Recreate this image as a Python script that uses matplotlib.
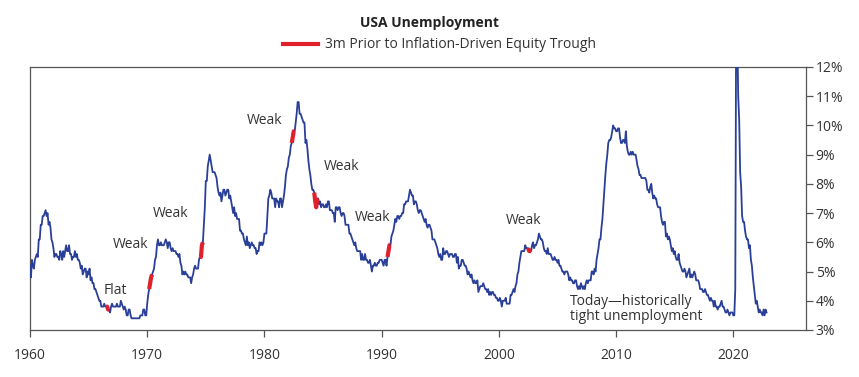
import numpy as np
import matplotlib
matplotlib.use("Agg")
import matplotlib.pyplot as plt

# monthly US unemployment rate (%), Jan 1960 onward
rate_1960s = [
    5.2, 4.8, 5.4, 5.2, 5.1, 5.4, 5.5, 5.6, 5.5, 6.1, 6.1, 6.6,
    6.6, 6.9, 6.9, 7.0, 7.1, 6.9, 7.0, 6.6, 6.7, 6.5, 6.1, 6.0,
    5.8, 5.5, 5.6, 5.6, 5.5, 5.5, 5.4, 5.7, 5.6, 5.4, 5.7, 5.5,
    5.7, 5.9, 5.7, 5.7, 5.9, 5.6, 5.6, 5.4, 5.5, 5.5, 5.7, 5.5,
    5.6, 5.4, 5.4, 5.3, 5.1, 5.2, 4.9, 5.0, 5.1, 5.1, 4.8, 5.0,
    4.9, 5.1, 4.7, 4.8, 4.6, 4.6, 4.4, 4.4, 4.3, 4.2, 4.1, 4.0,
    4.0, 3.8, 3.8, 3.8, 3.9, 3.8, 3.8, 3.8, 3.7, 3.7, 3.6, 3.8,
    3.9, 3.8, 3.8, 3.8, 3.8, 3.9, 3.8, 3.8, 3.8, 4.0, 3.9, 3.8,
    3.7, 3.8, 3.7, 3.5, 3.5, 3.7, 3.7, 3.5, 3.4, 3.4, 3.4, 3.4,
    3.4, 3.4, 3.4, 3.4, 3.4, 3.5, 3.5, 3.5, 3.7, 3.7, 3.5, 3.5,
]
rate_1970s = [
    3.9, 4.2, 4.4, 4.6, 4.8, 4.9, 5.0, 5.1, 5.4, 5.5, 5.9, 6.1,
    5.9, 5.9, 6.0, 5.9, 5.9, 5.9, 6.0, 6.1, 6.0, 5.8, 6.0, 6.0,
    5.8, 5.7, 5.8, 5.7, 5.7, 5.7, 5.6, 5.6, 5.5, 5.6, 5.3, 5.2,
    4.9, 5.0, 4.9, 5.0, 4.9, 4.9, 4.8, 4.8, 4.8, 4.6, 4.8, 4.9,
    5.1, 5.2, 5.1, 5.1, 5.1, 5.4, 5.5, 5.5, 5.9, 6.0, 6.6, 7.2,
    8.1, 8.1, 8.6, 8.8, 9.0, 8.8, 8.6, 8.4, 8.4, 8.4, 8.3, 8.2,
    7.9, 7.7, 7.6, 7.7, 7.4, 7.6, 7.8, 7.8, 7.6, 7.7, 7.8, 7.8,
    7.5, 7.6, 7.4, 7.2, 7.0, 7.2, 6.9, 7.0, 6.8, 6.8, 6.8, 6.4,
    6.4, 6.3, 6.3, 6.1, 6.0, 5.9, 6.2, 5.9, 6.0, 5.8, 5.9, 6.0,
    5.9, 5.9, 5.8, 5.8, 5.6, 5.7, 5.7, 6.0, 5.9, 6.0, 5.9, 6.0,
]
rate_1980s = [
    6.3, 6.3, 6.3, 6.9, 7.5, 7.6, 7.8, 7.7, 7.5, 7.5, 7.5, 7.2,
    7.5, 7.4, 7.4, 7.2, 7.5, 7.5, 7.2, 7.4, 7.6, 7.9, 8.3, 8.5,
    8.6, 8.9, 9.0, 9.3, 9.4, 9.6, 9.8, 9.8, 10.1, 10.4, 10.8, 10.8,
    10.4, 10.4, 10.3, 10.2, 10.1, 10.1, 9.4, 9.5, 9.2, 8.8, 8.5, 8.3,
    8.0, 7.8, 7.8, 7.7, 7.4, 7.2, 7.5, 7.5, 7.3, 7.4, 7.2, 7.3,
    7.3, 7.2, 7.2, 7.3, 7.2, 7.4, 7.4, 7.1, 7.1, 7.1, 7.0, 7.0,
    6.7, 7.2, 7.2, 7.1, 7.2, 7.2, 7.0, 6.9, 7.0, 7.0, 6.9, 6.6,
    6.6, 6.6, 6.6, 6.3, 6.3, 6.2, 6.1, 6.0, 5.9, 6.0, 5.8, 5.7,
    5.7, 5.7, 5.7, 5.4, 5.6, 5.4, 5.4, 5.6, 5.4, 5.4, 5.3, 5.3,
    5.4, 5.2, 5.0, 5.2, 5.2, 5.3, 5.2, 5.2, 5.3, 5.3, 5.4, 5.4,
]
rate_1990s = [
    5.4, 5.3, 5.2, 5.4, 5.4, 5.2, 5.5, 5.7, 5.9, 5.9, 6.2, 6.3,
    6.4, 6.6, 6.8, 6.7, 6.9, 6.9, 6.8, 6.9, 6.9, 7.0, 7.0, 7.3,
    7.3, 7.4, 7.4, 7.4, 7.6, 7.8, 7.7, 7.6, 7.6, 7.3, 7.4, 7.4,
    7.3, 7.1, 7.0, 7.1, 7.1, 7.0, 6.9, 6.8, 6.7, 6.8, 6.6, 6.5,
    6.6, 6.6, 6.5, 6.4, 6.1, 6.1, 6.1, 6.0, 5.9, 5.8, 5.6, 5.5,
    5.6, 5.4, 5.4, 5.8, 5.6, 5.6, 5.7, 5.7, 5.6, 5.5, 5.6, 5.6,
    5.6, 5.5, 5.5, 5.6, 5.6, 5.3, 5.5, 5.1, 5.2, 5.2, 5.4, 5.4,
    5.3, 5.2, 5.2, 5.1, 4.9, 5.0, 4.9, 4.8, 4.9, 4.7, 4.6, 4.7,
    4.6, 4.6, 4.7, 4.3, 4.4, 4.5, 4.5, 4.5, 4.6, 4.5, 4.4, 4.4,
    4.3, 4.4, 4.2, 4.3, 4.2, 4.3, 4.3, 4.2, 4.2, 4.1, 4.1, 4.0,
]
rate_2000s = [
    4.0, 4.1, 4.0, 3.8, 4.0, 4.0, 4.0, 4.1, 3.9, 3.9, 3.9, 3.9,
    4.2, 4.2, 4.3, 4.4, 4.3, 4.5, 4.6, 4.9, 5.0, 5.3, 5.5, 5.7,
    5.7, 5.7, 5.7, 5.9, 5.8, 5.8, 5.8, 5.7, 5.7, 5.7, 5.9, 6.0,
    5.8, 5.9, 5.9, 6.0, 6.1, 6.3, 6.2, 6.1, 6.1, 6.0, 5.8, 5.7,
    5.7, 5.6, 5.8, 5.6, 5.6, 5.6, 5.5, 5.4, 5.4, 5.5, 5.4, 5.4,
    5.3, 5.4, 5.2, 5.2, 5.1, 5.0, 5.0, 4.9, 5.0, 5.0, 5.0, 4.9,
    4.7, 4.8, 4.7, 4.7, 4.6, 4.6, 4.7, 4.7, 4.5, 4.4, 4.5, 4.4,
    4.6, 4.5, 4.4, 4.5, 4.4, 4.6, 4.7, 4.6, 4.7, 4.7, 4.7, 5.0,
    5.0, 4.9, 5.1, 5.0, 5.4, 5.6, 5.8, 6.1, 6.1, 6.5, 6.8, 7.3,
    7.8, 8.3, 8.7, 9.0, 9.4, 9.5, 9.5, 9.6, 9.8, 10.0, 9.9, 9.9,
]
rate_2010s = [
    9.8, 9.8, 9.9, 9.9, 9.6, 9.4, 9.4, 9.5, 9.5, 9.4, 9.8, 9.3,
    9.1, 9.0, 9.0, 9.1, 9.0, 9.1, 9.0, 9.0, 9.0, 8.8, 8.6, 8.5,
    8.3, 8.3, 8.2, 8.2, 8.2, 8.2, 8.2, 8.1, 7.8, 7.8, 7.7, 7.9,
    8.0, 7.7, 7.5, 7.6, 7.5, 7.5, 7.3, 7.2, 7.2, 7.2, 6.9, 6.7,
    6.6, 6.7, 6.7, 6.2, 6.3, 6.1, 6.2, 6.1, 5.9, 5.7, 5.8, 5.6,
    5.7, 5.5, 5.4, 5.4, 5.6, 5.3, 5.2, 5.1, 5.0, 5.0, 5.1, 5.0,
    4.8, 4.9, 5.0, 5.1, 4.8, 4.9, 4.8, 4.9, 5.0, 4.9, 4.7, 4.7,
    4.7, 4.6, 4.4, 4.4, 4.4, 4.3, 4.3, 4.4, 4.3, 4.2, 4.2, 4.1,
    4.0, 4.1, 4.0, 4.0, 3.8, 4.0, 3.8, 3.8, 3.7, 3.8, 3.8, 3.9,
    4.0, 3.8, 3.8, 3.7, 3.6, 3.6, 3.7, 3.6, 3.5, 3.6, 3.6, 3.6,
]
rate_2020s = [
    3.5, 3.5, 4.4, 14.7, 13.2, 11.0, 10.2, 8.4, 7.9, 6.9, 6.7, 6.7,
    6.4, 6.2, 6.1, 6.1, 5.8, 5.9, 5.4, 5.2, 4.8, 4.5, 4.2, 3.9,
    4.0, 3.8, 3.6, 3.7, 3.6, 3.6, 3.5, 3.7, 3.5, 3.7, 3.6,
]

# windows 3 months before each inflation-driven equity trough (decimal years)
red_windows = [(1966.50, 1966.80), (1970.15, 1970.42), (1974.50, 1974.80),
               (1982.33, 1982.60), (1984.25, 1984.55), (1990.50, 1990.80),
               (2002.50, 2002.80)]

labels = ["Flat", "Weak", "Weak", "Weak", "Weak", "Weak", "Weak"]
label_x = [1967.25, 1968.6, 1971.95, 1980.05, 1986.6, 1989.2, 2002.07]
label_y = [4.36, 5.92, 6.97, 10.18, 8.58, 6.86, 6.73]

rate = np.array(rate_1960s + rate_1970s + rate_1980s + rate_1990s
                + rate_2000s + rate_2010s + rate_2020s)
years = 1960 + np.arange(len(rate)) / 12.0

blue = "#2a3f97"
red = "#e0202a"
grey = "#555555"
text_col = "#333333"

plt.rcParams["font.family"] = ["Open Sans", "DejaVu Sans"]

fig = plt.figure(figsize=(8.59, 3.77), dpi=100)
ax = fig.add_axes([0.0349, 0.1247, 0.9034, 0.6976])

ax.plot(years, rate, color=blue, lw=1.3, zorder=3)
for start, end in red_windows:
    m = (years >= start - 1e-6) & (years <= end + 1e-6)
    ax.plot(years[m], rate[m], color=red, lw=3.0, solid_capstyle="butt", zorder=4)

for txt, x, y in zip(labels, label_x, label_y):
    ax.text(x, y, txt, ha="center", va="center", fontsize=10, color=text_col)

ax.text(2006.05, 3.71, "Today\u2014historically\ntight unemployment",
        ha="left", va="center", fontsize=10, color=text_col, linespacing=1.0)

ax.set_xlim(1960, 2026.2)
ax.set_ylim(3, 12)
ax.set_xticks(range(1960, 2021, 10))
ax.set_yticks(range(3, 13))
ax.set_yticklabels([f"{v}%" for v in range(3, 13)])
ax.yaxis.tick_right()
ax.tick_params(axis="both", direction="out", length=5, width=0.9, color=grey,
               labelcolor=text_col, labelsize=10)
ax.tick_params(axis="x", pad=8)
ax.tick_params(axis="y", pad=2)
for s in ax.spines.values():
    s.set_color(grey)
    s.set_linewidth(0.9)

fig.text(0.5, 0.94, "USA Unemployment", ha="center", va="center",
         fontsize=10, fontweight="bold", color="#222222")
fig.lines.append(plt.Line2D([0.330, 0.370], [0.883, 0.883], transform=fig.transFigure,
                            color=red, lw=3.0))
fig.text(0.378, 0.883, "3m Prior to Inflation-Driven Equity Trough", ha="left",
         va="center", fontsize=10, color=text_col)

fig.savefig("out.png", dpi=100)
